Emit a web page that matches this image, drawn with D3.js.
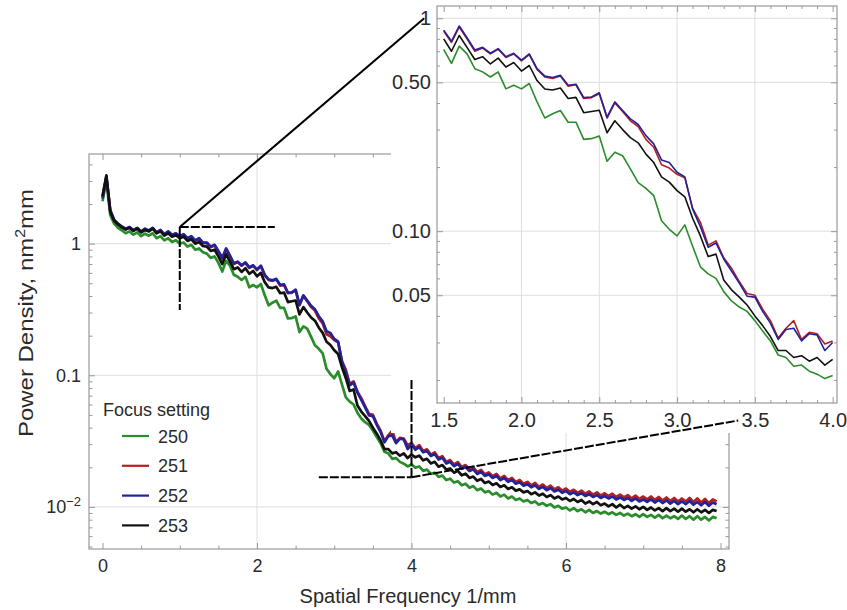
<!DOCTYPE html>
<html>
<head>
<meta charset="utf-8">
<script src="https://cdn.jsdelivr.net/npm/d3@7"></script>
<style>
  body { margin: 0; background: #fff; }
  text { font-family: "Liberation Sans", Arial, sans-serif; }
</style>
</head>
<body>
<svg id="chart" width="847" height="610"></svg>
<script>
// spatial frequency samples, 1/mm
const freq = [
  0, 0.05, 0.1, 0.15, 0.2, 0.25, 0.3, 0.35, 0.4, 0.45,
  0.5, 0.55, 0.6, 0.65, 0.7, 0.75, 0.8, 0.85, 0.9, 0.95,
  1, 1.05, 1.1, 1.15, 1.2, 1.25, 1.3, 1.35, 1.4, 1.45,
  1.5, 1.55, 1.6, 1.65, 1.7, 1.75, 1.8, 1.85, 1.9, 1.95,
  2, 2.05, 2.1, 2.15, 2.2, 2.25, 2.3, 2.35, 2.4, 2.45,
  2.5, 2.55, 2.6, 2.65, 2.7, 2.75, 2.8, 2.85, 2.9, 2.95,
  3, 3.05, 3.1, 3.15, 3.2, 3.25, 3.3, 3.35, 3.4, 3.45,
  3.5, 3.55, 3.6, 3.65, 3.7, 3.75, 3.8, 3.85, 3.9, 3.95,
  4, 4.05, 4.1, 4.15, 4.2, 4.25, 4.3, 4.35, 4.4, 4.45,
  4.5, 4.55, 4.6, 4.65, 4.7, 4.75, 4.8, 4.85, 4.9, 4.95,
  5, 5.05, 5.1, 5.15, 5.2, 5.25, 5.3, 5.35, 5.4, 5.45,
  5.5, 5.55, 5.6, 5.65, 5.7, 5.75, 5.8, 5.85, 5.9, 5.95,
  6, 6.05, 6.1, 6.15, 6.2, 6.25, 6.3, 6.35, 6.4, 6.45,
  6.5, 6.55, 6.6, 6.65, 6.7, 6.75, 6.8, 6.85, 6.9, 6.95,
  7, 7.05, 7.1, 7.15, 7.2, 7.25, 7.3, 7.35, 7.4, 7.45,
  7.5, 7.55, 7.6, 7.65, 7.7, 7.75, 7.8, 7.85, 7.9, 7.95
];

// power density, nm^2 mm, one list per focus setting
const psd250 = [
  2.1, 3.0, 1.65, 1.42, 1.32, 1.26, 1.2, 1.24, 1.17, 1.22,
  1.14, 1.19, 1.15, 1.2, 1.1, 1.14, 1.06, 1.1, 1.03, 1.06,
  1.0, 1.02, 0.95, 0.98, 0.9, 0.92, 0.86, 0.84, 0.78, 0.8,
  0.715, 0.614, 0.74, 0.68, 0.58, 0.56, 0.53, 0.56, 0.466, 0.485,
  0.466, 0.494, 0.405, 0.34, 0.356, 0.369, 0.325, 0.325, 0.27, 0.272,
  0.28, 0.213, 0.235, 0.226, 0.196, 0.169, 0.159, 0.147, 0.112, 0.102,
  0.095, 0.107, 0.085, 0.068, 0.063, 0.06, 0.052, 0.047, 0.044, 0.042,
  0.038, 0.034, 0.0305, 0.0262, 0.0255, 0.0232, 0.0235, 0.022, 0.0213, 0.0203,
  0.021, 0.0199, 0.0203, 0.0188, 0.0192, 0.0178, 0.0182, 0.0169, 0.0173, 0.016,
  0.0164, 0.0153, 0.0157, 0.0146, 0.015, 0.014, 0.0144, 0.0134, 0.0138, 0.0129,
  0.0132, 0.0124, 0.0128, 0.012, 0.0124, 0.0116, 0.012, 0.0113, 0.0116, 0.011,
  0.0113, 0.0107, 0.011, 0.0104, 0.0107, 0.0102, 0.0105, 0.0099, 0.0102, 0.0097,
  0.0099, 0.0094, 0.0098, 0.0093, 0.0096, 0.0091, 0.0095, 0.009, 0.0093, 0.0089,
  0.0092, 0.0088, 0.0091, 0.0087, 0.009, 0.0086, 0.0089, 0.0085, 0.0088, 0.0084,
  0.0088, 0.0084, 0.0087, 0.0083, 0.0087, 0.0082, 0.0086, 0.0082, 0.0085, 0.0081,
  0.0086, 0.0081, 0.0085, 0.008, 0.0085, 0.008, 0.0084, 0.0079, 0.0084, 0.0082
];
const psd251 = [
  2.25, 3.25, 1.78, 1.5, 1.41, 1.34, 1.29, 1.33, 1.26, 1.31,
  1.23, 1.29, 1.25, 1.31, 1.21, 1.26, 1.17, 1.23, 1.16, 1.19,
  1.13, 1.17, 1.09, 1.13, 1.05, 1.09, 1.01, 1.01, 0.94, 0.97,
  0.87, 0.77, 0.91, 0.8, 0.7, 0.725, 0.68, 0.715, 0.655, 0.68,
  0.63, 0.675, 0.575, 0.53, 0.522, 0.535, 0.48, 0.487, 0.42, 0.424,
  0.442, 0.34, 0.4, 0.365, 0.33, 0.31, 0.27, 0.248, 0.205, 0.198,
  0.185, 0.178, 0.128, 0.11, 0.086, 0.09, 0.075, 0.067, 0.058, 0.051,
  0.05, 0.043, 0.038, 0.0315, 0.035, 0.038, 0.031, 0.0335, 0.033, 0.0295,
  0.0305, 0.028, 0.0295, 0.0266, 0.0274, 0.025, 0.026, 0.0235, 0.0243, 0.022,
  0.0227, 0.021, 0.0219, 0.0201, 0.0208, 0.0193, 0.02, 0.0184, 0.0191, 0.0177,
  0.0183, 0.0171, 0.0178, 0.0165, 0.0172, 0.016, 0.0166, 0.0155, 0.016, 0.015,
  0.0155, 0.0146, 0.0152, 0.0142, 0.0148, 0.0139, 0.0145, 0.0136, 0.0141, 0.0133,
  0.0138, 0.013, 0.0135, 0.0128, 0.0133, 0.0126, 0.0131, 0.0124, 0.0129, 0.0122,
  0.0127, 0.0121, 0.0126, 0.0119, 0.0124, 0.0118, 0.0123, 0.0116, 0.0122, 0.0115,
  0.012, 0.0114, 0.012, 0.0113, 0.0119, 0.0112, 0.0118, 0.0111, 0.0117, 0.011,
  0.0116, 0.011, 0.0117, 0.0109, 0.0116, 0.0108, 0.0115, 0.0107, 0.0114, 0.011
];
const psd252 = [
  2.2, 3.2, 1.8, 1.52, 1.42, 1.35, 1.3, 1.34, 1.27, 1.32,
  1.24, 1.3, 1.26, 1.32, 1.22, 1.27, 1.18, 1.24, 1.17, 1.2,
  1.14, 1.18, 1.1, 1.14, 1.06, 1.1, 1.02, 1.02, 0.95, 0.98,
  0.88, 0.78, 0.92, 0.81, 0.71, 0.73, 0.685, 0.72, 0.66, 0.685,
  0.636, 0.68, 0.58, 0.535, 0.527, 0.54, 0.485, 0.49, 0.424, 0.427,
  0.447, 0.343, 0.405, 0.369, 0.337, 0.317, 0.281, 0.257, 0.216, 0.21,
  0.189, 0.18, 0.127, 0.105, 0.084, 0.088, 0.074, 0.065, 0.057, 0.0495,
  0.049, 0.042, 0.037, 0.031, 0.0345, 0.035, 0.0305, 0.033, 0.0325, 0.0275,
  0.03, 0.0272, 0.0285, 0.026, 0.0266, 0.0244, 0.0252, 0.0229, 0.0236, 0.0214,
  0.022, 0.0204, 0.0212, 0.0195, 0.0201, 0.0187, 0.0193, 0.0178, 0.0185, 0.0172,
  0.0177, 0.0166, 0.0172, 0.016, 0.0166, 0.0155, 0.016, 0.015, 0.0154, 0.0145,
  0.0149, 0.0141, 0.0146, 0.0137, 0.0142, 0.0134, 0.0139, 0.0131, 0.0135, 0.0128,
  0.0132, 0.0125, 0.0129, 0.0123, 0.0127, 0.0121, 0.0125, 0.0119, 0.0123, 0.0117,
  0.0121, 0.0116, 0.012, 0.0114, 0.0118, 0.0113, 0.0117, 0.0111, 0.0116, 0.011,
  0.0114, 0.0109, 0.0114, 0.0108, 0.0113, 0.0107, 0.0112, 0.0106, 0.0111, 0.0105,
  0.011, 0.0105, 0.0111, 0.0104, 0.0109, 0.0103, 0.0109, 0.0102, 0.0108, 0.0105
];
const psd253 = [
  2.3, 3.3, 1.75, 1.5, 1.4, 1.33, 1.28, 1.32, 1.25, 1.3,
  1.22, 1.27, 1.24, 1.3, 1.2, 1.24, 1.15, 1.2, 1.13, 1.16,
  1.1, 1.13, 1.05, 1.08, 1.0, 1.03, 0.96, 0.95, 0.88, 0.9,
  0.8, 0.7, 0.83, 0.73, 0.64, 0.66, 0.61, 0.65, 0.59, 0.62,
  0.565, 0.6, 0.51, 0.465, 0.46, 0.47, 0.42, 0.425, 0.36, 0.365,
  0.37, 0.29, 0.33, 0.3, 0.275, 0.26, 0.23, 0.21, 0.18, 0.17,
  0.155, 0.145, 0.115, 0.095, 0.076, 0.078, 0.059, 0.053, 0.049, 0.045,
  0.04, 0.036, 0.032, 0.0275, 0.0275, 0.0255, 0.026, 0.0245, 0.0255, 0.0235,
  0.025, 0.0238, 0.0245, 0.0226, 0.0232, 0.0214, 0.022, 0.0202, 0.0208, 0.0192,
  0.0196, 0.0182, 0.0188, 0.0174, 0.0179, 0.0166, 0.017, 0.0158, 0.0163, 0.0152,
  0.0156, 0.0147, 0.0151, 0.0142, 0.0146, 0.0137, 0.0141, 0.0133, 0.0136, 0.0129,
  0.0132, 0.0125, 0.0129, 0.0122, 0.0126, 0.0119, 0.0123, 0.0116, 0.012, 0.0114,
  0.0117, 0.0111, 0.0115, 0.0109, 0.0113, 0.0106, 0.011, 0.0105, 0.0109, 0.0103,
  0.0106, 0.0101, 0.0105, 0.0099, 0.0104, 0.0098, 0.0102, 0.0097, 0.0101, 0.0096,
  0.01, 0.0095, 0.0099, 0.0094, 0.0098, 0.0093, 0.0098, 0.0093, 0.0097, 0.0092,
  0.0097, 0.0092, 0.0096, 0.0091, 0.0096, 0.0091, 0.0095, 0.009, 0.0095, 0.0093
];

const focusNames = ["250", "251", "252", "253"];
const focusValues = [psd250, psd251, psd252, psd253];
const focusColors = ["#2a8c2a", "#b42020", "#22229a", "#111111"];

const mainXTicks = [0, 2, 4, 6, 8];
const mainYTicks = [1, 0.1, 0.01];
const insetXTicks = [1.5, 2.0, 2.5, 3.0, 3.5, 4.0];
const insetYTicks = [1, 0.5, 0.1, 0.05];
const insetYLabels = ["1", "0.50", "0.10", "0.05"];

const frameColor = "#9a9a9a";
const gridColor = "#dedede";
const labelColor = "#2a2a2a";

const svg = d3.select("#chart");

const series = focusNames.map(function (name, k) {
  return {
    name: name,
    color: focusColors[k],
    points: freq.map(function (f, i) { return { f: f, v: focusValues[k][i] }; })
  };
});

// log minor ticks 2..9 per decade inside a domain
function logMinor(domain, skip) {
  var out = [];
  for (var e = -3; e <= 1; e++) {
    for (var m = 1; m <= 9; m++) {
      var v = +(m * Math.pow(10, e)).toPrecision(3);
      if (v >= domain[0] && v <= domain[1] && skip.indexOf(v) < 0) out.push(v);
    }
  }
  return out;
}

function styleAxis(g, fontSize) {
  g.select(".domain").remove();
  g.attr("font-family", "'Liberation Sans', Arial, sans-serif").attr("font-size", fontSize);
  g.selectAll(".tick line").attr("stroke", frameColor).attr("stroke-width", 1);
  g.selectAll(".tick text").attr("fill", labelColor);
  return g;
}

function addAxis(parent, axis, tx, ty, fontSize) {
  var g = parent.append("g").attr("transform", "translate(" + tx + "," + ty + ")").call(axis);
  return styleAxis(g, fontSize || 10);
}

// ---------------- main plot ----------------
const mainBox = { left: 89, right: 729, top: 154, bottom: 549 };
const mainX = d3.scaleLinear().domain([-0.175, 8.11]).range([mainBox.left, mainBox.right]);
const mainY = d3.scaleLog().domain([0.00479, 4.8]).range([mainBox.bottom, mainBox.top]);

const main = svg.append("g");

svg.append("defs").append("clipPath").attr("id", "clipMain")
  .append("rect")
  .attr("x", mainBox.left).attr("y", mainBox.top)
  .attr("width", mainBox.right - mainBox.left).attr("height", mainBox.bottom - mainBox.top);

// grid
main.append("g").selectAll("line").data(mainXTicks.filter(function (d) { return d > 0 && d < 8; }))
  .enter().append("line")
  .attr("x1", function (d) { return mainX(d); }).attr("x2", function (d) { return mainX(d); })
  .attr("y1", mainBox.top).attr("y2", mainBox.bottom)
  .attr("stroke", gridColor).attr("stroke-width", 1);
main.append("g").selectAll("line").data(mainYTicks)
  .enter().append("line")
  .attr("x1", mainBox.left).attr("x2", mainBox.right)
  .attr("y1", function (d) { return mainY(d); }).attr("y2", function (d) { return mainY(d); })
  .attr("stroke", gridColor).attr("stroke-width", 1);

const mainLine = d3.line()
  .x(function (d) { return mainX(d.f); })
  .y(function (d) { return mainY(d.v); });

main.append("g").attr("clip-path", "url(#clipMain)")
  .selectAll("path").data(series).enter().append("path")
  .attr("d", function (d) { return mainLine(d.points); })
  .attr("fill", "none")
  .attr("stroke", function (d) { return d.color; })
  .attr("stroke-width", 2.7)
  .attr("stroke-linejoin", "round");

// frame
main.append("rect")
  .attr("x", mainBox.left).attr("y", mainBox.top)
  .attr("width", mainBox.right - mainBox.left).attr("height", mainBox.bottom - mainBox.top)
  .attr("fill", "none").attr("stroke", frameColor).attr("stroke-width", 1.2);

const mainXMinor = d3.range(0, 8.01, 0.5).filter(function (d) { return mainXTicks.indexOf(d) < 0; });
const mainYMinor = logMinor(mainY.domain(), mainYTicks);

addAxis(main, d3.axisBottom(mainX).tickValues(mainXTicks).tickSize(-6).tickPadding(10).tickFormat(d3.format("d")), 0, mainBox.bottom, 18);
addAxis(main, d3.axisBottom(mainX).tickValues(mainXMinor).tickSize(-3.5).tickFormat(""), 0, mainBox.bottom);
addAxis(main, d3.axisTop(mainX).tickValues(mainXTicks).tickSize(-6).tickFormat(""), 0, mainBox.top);
addAxis(main, d3.axisTop(mainX).tickValues(mainXMinor).tickSize(-3.5).tickFormat(""), 0, mainBox.top);

const yLabAxis = addAxis(main, d3.axisLeft(mainY).tickValues(mainYTicks).tickSize(-6).tickPadding(8)
  .tickFormat(function (d) { return d === 0.01 ? "" : (d === 1 ? "1" : "0.1"); }), mainBox.left, 0, 18);
addAxis(main, d3.axisLeft(mainY).tickValues(mainYMinor).tickSize(-3.5).tickFormat(""), mainBox.left, 0);
addAxis(main, d3.axisRight(mainY).tickValues(mainYTicks).tickSize(-6).tickFormat(""), mainBox.right, 0);
addAxis(main, d3.axisRight(mainY).tickValues(mainYMinor).tickSize(-3.5).tickFormat(""), mainBox.right, 0);

// 10^-2 label
yLabAxis.selectAll(".tick").filter(function (d) { return d === 0.01; }).select("text")
  .each(function () {
    var t = d3.select(this);
    t.append("tspan").text("10");
    t.append("tspan").attr("font-size", 13).attr("dy", "-0.55em").text("\u22122");
  });

// axis titles
main.append("text")
  .attr("x", 408).attr("y", 603)
  .attr("text-anchor", "middle").attr("font-size", 20).attr("fill", labelColor)
  .text("Spatial Frequency 1/mm");

const yTitle = main.append("text")
  .attr("transform", "translate(33,313) rotate(-90)")
  .attr("text-anchor", "middle").attr("font-size", 21).attr("fill", labelColor)
  .attr("textLength", 248).attr("lengthAdjust", "spacingAndGlyphs");
yTitle.append("tspan").text("Power Density, nm");
yTitle.append("tspan").attr("font-size", 14).attr("dy", "-0.6em").text("2");
yTitle.append("tspan").attr("dy", "0.4em").text("mm");

// legend
const legend = main.append("g");
legend.append("text").attr("x", 103).attr("y", 416)
  .attr("font-size", 18).attr("fill", labelColor).text("Focus setting");
const legendItems = legend.selectAll("g.item").data(series).enter().append("g")
  .attr("class", "item")
  .attr("transform", function (d, i) { return "translate(0," + (436 + i * 29.8) + ")"; });
legendItems.append("line").attr("x1", 122).attr("x2", 149).attr("y1", 0).attr("y2", 0)
  .attr("stroke", function (d) { return d.color; }).attr("stroke-width", 2.2);
legendItems.append("text").attr("x", 158).attr("y", 6.5)
  .attr("font-size", 18).attr("fill", labelColor)
  .text(function (d) { return d.name; });

// ---------------- inset ----------------
const insetBox = { left: 437, right: 837, top: 6, bottom: 403 };
const insetX = d3.scaleLinear().domain([1.457, 4.028]).range([insetBox.left, insetBox.right]);
const insetY = d3.scaleLog().domain([0.01559, 1.142]).range([insetBox.bottom, insetBox.top]);

const inset = svg.append("g");
inset.append("rect").attr("x", 391).attr("y", 0).attr("width", 456).attr("height", 433).attr("fill", "#fff");

svg.select("defs").append("clipPath").attr("id", "clipInset")
  .append("rect")
  .attr("x", insetBox.left).attr("y", insetBox.top)
  .attr("width", insetBox.right - insetBox.left).attr("height", insetBox.bottom - insetBox.top);

inset.append("g").selectAll("line").data(insetXTicks.slice(1, -1))
  .enter().append("line")
  .attr("x1", function (d) { return insetX(d); }).attr("x2", function (d) { return insetX(d); })
  .attr("y1", insetBox.top).attr("y2", insetBox.bottom)
  .attr("stroke", gridColor).attr("stroke-width", 1);
inset.append("g").selectAll("line").data(insetYTicks)
  .enter().append("line")
  .attr("x1", insetBox.left).attr("x2", insetBox.right)
  .attr("y1", function (d) { return insetY(d); }).attr("y2", function (d) { return insetY(d); })
  .attr("stroke", gridColor).attr("stroke-width", 1);

const insetLine = d3.line()
  .x(function (d) { return insetX(d.f); })
  .y(function (d) { return insetY(d.v); });

inset.append("g").attr("clip-path", "url(#clipInset)")
  .selectAll("path").data(series).enter().append("path")
  .attr("d", function (d) {
    return insetLine(d.points.filter(function (p) { return p.f >= 1.5 && p.f <= 4.0; }));
  })
  .attr("fill", "none")
  .attr("stroke", function (d) { return d.color; })
  .attr("stroke-width", 1.6)
  .attr("stroke-linejoin", "round");

inset.append("rect")
  .attr("x", insetBox.left).attr("y", insetBox.top)
  .attr("width", insetBox.right - insetBox.left).attr("height", insetBox.bottom - insetBox.top)
  .attr("fill", "none").attr("stroke", frameColor).attr("stroke-width", 1.2);

const insetXMinor = d3.range(15, 41, 1).map(function (d) { return d / 10; })
  .filter(function (d) { return insetXTicks.indexOf(d) < 0; });
const insetYMinor = logMinor(insetY.domain(), insetYTicks);

addAxis(inset, d3.axisBottom(insetX).tickValues(insetXTicks).tickSize(-6).tickPadding(10).tickFormat(d3.format(".1f")), 0, insetBox.bottom, 20);
addAxis(inset, d3.axisBottom(insetX).tickValues(insetXMinor).tickSize(-3).tickFormat(""), 0, insetBox.bottom);
addAxis(inset, d3.axisTop(insetX).tickValues(insetXTicks).tickSize(-6).tickFormat(""), 0, insetBox.top);
addAxis(inset, d3.axisTop(insetX).tickValues(insetXMinor).tickSize(-3).tickFormat(""), 0, insetBox.top);
addAxis(inset, d3.axisLeft(insetY).tickValues(insetYTicks).tickSize(-6).tickPadding(6)
  .tickFormat(function (d, i) { return insetYLabels[i]; }), insetBox.left, 0, 20);
addAxis(inset, d3.axisLeft(insetY).tickValues(insetYMinor).tickSize(-3).tickFormat(""), insetBox.left, 0);
addAxis(inset, d3.axisRight(insetY).tickValues(insetYTicks).tickSize(-6).tickFormat(""), insetBox.right, 0);
addAxis(inset, d3.axisRight(insetY).tickValues(insetYMinor).tickSize(-3).tickFormat(""), insetBox.right, 0);

// ---------------- zoom call-out lines ----------------
const callouts = svg.append("g").attr("stroke", "#000").attr("fill", "none");
const ax = mainX(1.0), ay = mainY(1.34);
callouts.append("line").attr("x1", ax).attr("y1", ay).attr("x2", ax).attr("y2", mainY(0.313))
  .attr("stroke-width", 2).attr("stroke-dasharray", "9,2");
callouts.append("line").attr("x1", ax).attr("y1", ay).attr("x2", mainX(2.23)).attr("y2", ay)
  .attr("stroke-width", 2).attr("stroke-dasharray", "9,2");
callouts.append("line").attr("x1", ax).attr("y1", ay).attr("x2", insetX(1.375)).attr("y2", insetY(1.0))
  .attr("stroke-width", 2);

const bx = mainX(4.0), by = mainY(0.0168);
callouts.append("line").attr("x1", bx).attr("y1", mainY(0.092)).attr("x2", bx).attr("y2", by)
  .attr("stroke-width", 2).attr("stroke-dasharray", "9,2");
callouts.append("line").attr("x1", mainX(2.8)).attr("y1", by).attr("x2", bx).attr("y2", by)
  .attr("stroke-width", 2).attr("stroke-dasharray", "9,2");
callouts.append("line").attr("x1", bx).attr("y1", by).attr("x2", insetX(3.393)).attr("y2", insetY(0.0129))
  .attr("stroke-width", 2).attr("stroke-dasharray", "9,2");
</script>
</body>
</html>
